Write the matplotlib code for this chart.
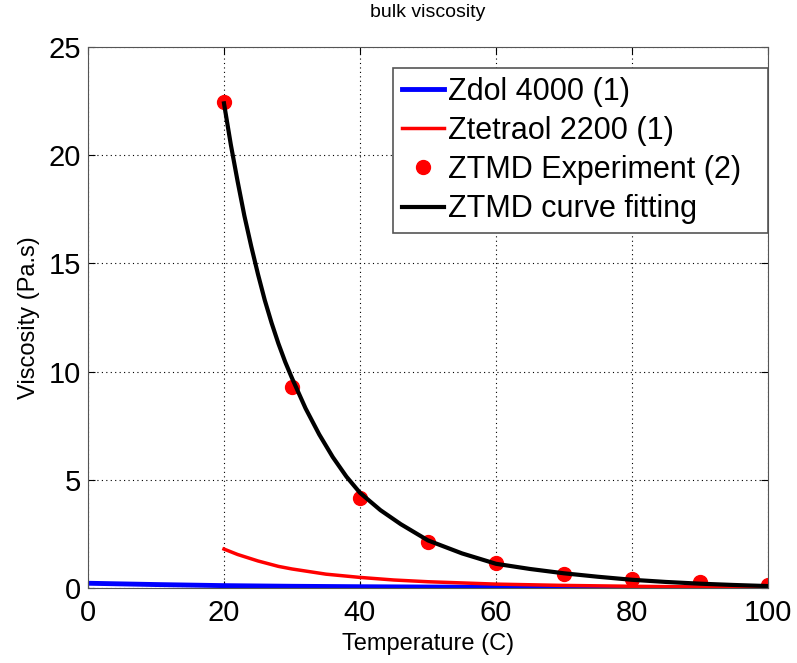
import matplotlib
matplotlib.use('Agg')
import matplotlib.pyplot as plt

plt.rcParams['font.family'] = ['Liberation Sans', 'DejaVu Sans']

# Zdol 4000 (1)
zdol_t = [0, 5, 10, 20, 30, 40, 50, 60, 70, 80, 90, 100]
zdol_v = [0.22, 0.19, 0.16, 0.11, 0.08, 0.06, 0.045, 0.035, 0.025, 0.02, 0.015, 0.012]

# Ztetraol 2200 (1)
ztet_t = [20, 22, 25, 28, 30, 35, 40, 45, 50, 60, 70, 80, 90, 100]
ztet_v = [1.8, 1.55, 1.25, 1.0, 0.88, 0.64, 0.49, 0.37, 0.29, 0.18, 0.12, 0.08, 0.05, 0.03]

# ZTMD experiment (2)
exp_t = [20, 30, 40, 50, 60, 70, 80, 90, 100]
exp_v = [22.45, 9.27, 4.14, 2.11, 1.14, 0.65, 0.42, 0.26, 0.14]

# ZTMD curve fitting
fit_t = [20, 21, 22, 23, 24, 25, 26, 27, 28, 29, 30, 32, 34, 36, 38, 40, 43, 46, 50,
         55, 60, 65, 70, 75, 80, 85, 90, 95, 100]
fit_v = [22.4, 20.5, 18.8, 17.2, 15.8, 14.5, 13.3, 12.25, 11.3, 10.45, 9.7, 8.3, 7.1, 6.05,
         5.15, 4.4, 3.6, 2.95, 2.2, 1.6, 1.12, 0.88, 0.68, 0.52, 0.38, 0.28, 0.2, 0.14, 0.09]

fig = plt.figure(figsize=(7.97, 6.63), dpi=100)
ax = fig.add_axes([0.1104, 0.1131, 0.8532, 0.8159])

ax.plot(zdol_t, zdol_v, color='#0000ff', lw=3.5, label='Zdol 4000 (1)')
ax.plot(ztet_t, ztet_v, color='#ff0000', lw=2.5, label='Ztetraol 2200 (1)')
ax.plot(exp_t, exp_v, 'o', color='#ff0000', ms=10, label='ZTMD Experiment (2)')
ax.plot(fit_t, fit_v, color='black', lw=3, label='ZTMD curve fitting')

ax.set_xlim(0, 100)
ax.set_ylim(0, 25)
ax.set_xticks([0, 20, 40, 60, 80, 100])
ax.set_yticks([0, 5, 10, 15, 20, 25])
ax.tick_params(labelsize=21, direction='in', length=5, top=True, right=True)
ax.tick_params(axis='x', pad=8)
ax.tick_params(axis='y', pad=5)
ax.grid(True, color='black', linestyle=(0, (1, 3)), linewidth=0.8)
for s in ax.spines.values():
    s.set_color('#555555')

ax.set_xlabel('Temperature (C)', fontsize=17, labelpad=4)
ax.set_ylabel('Viscosity (Pa.s)', fontsize=17, labelpad=6)
ax.set_title('bulk viscosity', fontsize=14, pad=22)

leg = ax.legend(loc='upper left', bbox_to_anchor=(0.449, 0.659, 0.551, 0.303),
                mode='expand', borderaxespad=0,
                fontsize=22, fancybox=False, edgecolor='#555555', framealpha=1,
                handlelength=1.35, handletextpad=0.15, labelspacing=0.3,
                borderpad=0.3, numpoints=1)
leg.get_frame().set_linewidth(1.2)

plt.savefig('out.png', dpi=100)
